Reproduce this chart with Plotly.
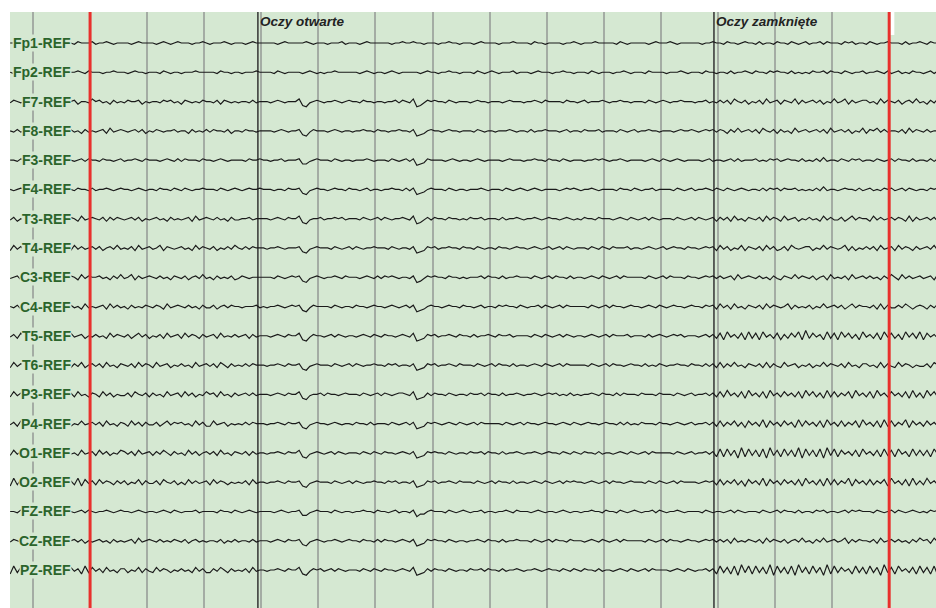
import numpy as np
import plotly.graph_objects as go

# ---------------- data ----------------
# Channel labels (top to bottom)
channels = ["Fp1-REF", "Fp2-REF", "F7-REF", "F8-REF", "F3-REF", "F4-REF",
            "T3-REF", "T4-REF", "C3-REF", "C4-REF", "T5-REF", "T6-REF",
            "P3-REF", "P4-REF", "O1-REF", "O2-REF", "FZ-REF", "CZ-REF", "PZ-REF"]

# Hand-read traces: each digit is one sample (16 samples/s), 5 = baseline,
# one step = 10 uV. Groups of 8 digits = half a second, starting at t = -0.4 s.
fp1 = ("55455565 54565545 55465556 45565455 55456555 54565456 55545565 45556545 "
       "55456555 55545655 55565455 54555645 55456555 55545565 56554555 45565545 "
       "55456555 54555655 55465545 55545565 45556555 55465455 55545655 56545555 "
       "55455655 46554565 54645546 55465456 45564655 54656455 46545565 55464556 54655465")
fp2 = ("54565545 55456555 45565465 55455655 54565545 55465455 45556555 55465545 "
       "54555655 55465455 55456545 45565555 55456545 54565455 55545655 45565545 "
       "55465456 54555645 55456555 45565545 55465455 54556545 55465555 45556545 "
       "55465545 54645565 46554656 55464545 46556465 54654556 45565464 56454655 45646556")
f7 = ("46545364 56374546 45635547 56453645 46556354 55465645 36545465 54636545 "
      "45546455 54565455 57214565 45565456 55465545 54556465 47124656 55465455 "
      "54565545 55456555 45565465 55546554 56455565 45565545 55465456 54556555 "
      "45564546 46375463 54637456 36547364 56463547 45736456 64537465 46356474 53647356")
f8 = ("54645365 46355647 56453645 45637456 54564635 46545564 55364546 46554635 "
      "54655455 55456545 56214655 54565455 45565546 55455655 46123565 54565545 "
      "55465455 45556545 54645565 55456455 46555645 55465456 45565545 55456556 "
      "54565646 53647456 46375463 64537456 45646374 56463547 36574645 54637465 46455736")
f3 = ("55465456 45565546 55456465 54655456 45565465 55456546 46555465 54565455 "
      "55465565 54556455 56224565 55465455 45556545 55465456 46123655 55456545 "
      "54565455 55456555 45565546 55465455 54556565 45565455 55456546 54565455 "
      "55456455 45646455 56454656 45655464 54647455 46546564 55465456 46554645 54646556")
f4 = ("54565455 46554565 55465546 45565456 55456545 54655465 46545565 55465456 "
      "54565565 55455465 56214565 54565546 55456455 45565546 46123565 55465455 "
      "45556545 55465456 54565455 55456565 45565455 55465546 54556455 55465456 "
      "45565465 46545654 55464656 46556454 54647455 45655464 56454656 45646545 54656455")
t3 = ("46354647 53645364 46537456 54636465 45646354 56453645 45637456 54645364 "
      "45564555 54565465 57214556 45565645 55465456 46545565 47124646 55465545 "
      "46556455 54645565 45565456 55456545 46554655 54565465 45646545 55465456 "
      "46545636 46374536 54637465 37456354 64537464 46357465 53746456 46537364 56463547")
t4 = ("37463547 46375364 53746456 46356474 54637456 45736545 64537465 46354647 "
      "54646555 45565455 56214565 55465456 46545565 55465455 46123656 45565546 "
      "55465455 46554565 54565456 45646545 55465465 46555645 54565456 45655465 "
      "54565637 46354736 54637463 46375456 63547465 45736354 64637456 37465364 56473546")
c3 = ("45637456 54645364 46537465 56453647 45736456 54645365 46356474 53645463 "
      "46545555 55465456 56214565 45565465 55456546 46565455 46124656 55465545 "
      "45556465 54645565 55465456 46554645 54565465 45646555 55465456 46555465 "
      "54565646 45637456 54645364 36547465 46356374 54637456 46453647 53746456 45637464")
c4 = ("54637456 46354647 56453745 45637464 53645465 46537456 54645364 46356465 "
      "54555645 45565456 56214655 55465455 46554565 54565456 46123565 54565546 "
      "55456455 46565546 54556465 45646555 55465456 46554565 54565465 45655456 "
      "55465637 46374536 54637465 45736454 63547456 46357465 54637364 46475356 53647456")
t5 = ("46375364 53746456 37456354 64537465 46357463 54637456 37465364 56374546 "
      "45636455 54565465 57214655 45646545 54565465 46554565 47123656 45565465 "
      "54645565 46556455 55465465 45646545 54565456 46555645 55464565 45656455 "
      "54564637 28463728 37284637 26374829 37462837 28473628 46372847 36284738 27463827")
t6 = ("37465364 46357465 53647356 46374536 54637465 37456354 64537456 46375364 "
      "54646555 45565465 56214565 55465456 46545565 54656455 46123656 45565465 "
      "55465456 46554645 54565465 45646555 55465456 46554565 54645465 45565546 "
      "55464637 36474536 54637364 37456354 63547465 46374536 64537364 37465354 46375463")
p3 = ("37465364 63547365 46374536 53746354 46375463 64537456 37463547 56374536 "
      "45646455 54565465 57214556 46554565 55465456 46545665 47123646 55465455 "
      "46556465 54645565 45565456 56454645 45565465 54646555 46555465 55465456 "
      "45564637 38463728 46372846 37463728 47362837 36472846 37284637 46372836 28473647")
p4 = ("46375364 37465354 63547456 46374536 53746364 46357465 64537463 37456354 "
      "54646555 45565465 56214565 54565455 46554645 55465456 46123656 54565465 "
      "45646555 55465456 46554565 54565465 45655456 55464645 46555465 54565456 "
      "45564637 36473627 46382746 37462837 46372846 37364728 46372837 36482746 37463728")
o1 = ("37465364 46375463 64537456 37463547 64637456 36475364 53746356 46374536 "
      "54636455 45565465 57214565 45646545 55465465 46554565 46123656 55465455 "
      "46556465 54645565 45565456 55465465 46554645 54565465 45646555 55465456 "
      "45564628 28371928 37281937 28372918 37281938 27463728 46372837 28462837 37284637")
o2 = ("28374628 37462837 46382746 37465364 63547364 46375463 53746456 37465354 "
      "54637455 45565465 56214565 55465456 46545565 54656455 46123656 45565465 "
      "55465456 46554645 54565465 45646565 54565456 46554565 55465465 45646555 "
      "54565637 36473627 46382746 37463728 46372837 36482746 37364728 46372836 38463728")
fz = ("55465546 45565455 55456465 45565456 55456545 54565465 45556455 55465546 "
      "54565455 55456545 56224565 55465455 45565546 55456455 46133565 55465456 "
      "54556455 45565465 55456545 54565455 45565546 55465456 54556465 45565455 "
      "55465455 45646545 55465456 46554645 54656455 45646565 55465456 46545654 54656455")
cz = ("46545364 54637456 45646354 56453645 45637456 54645465 46356454 55463546 "
      "45546455 54565465 56214565 45565456 55465546 46554565 46123656 55465455 "
      "45565465 54645565 55465456 46554655 54565465 45646555 55465456 46554565 "
      "54565646 46374546 54637465 46356474 53647456 45736465 54637456 46453647 56374546")
pz = ("28374637 46372846 37462837 46374536 63547364 37465354 64537463 36475364 "
      "54637455 45565465 57214656 45646545 55465465 46554565 47123646 55465455 "
      "46556465 54645565 45565456 55465465 46554645 54565465 45646555 54565465 "
      "45564628 37281938 28372918 37281937 28371928 37462837 28371937 28463728 37281928")

traces = [fp1, fp2, f7, f8, f3, f4, t3, t4, c3, c4, t5, t6, p3, p4, o1, o2, fz, cz, pz]

# Events / markers (seconds)
event_times = [3.94, 11.93]
event_labels = ["Oczy otwarte", "Oczy zamknięte"]
page_marks = [1.0, 15.0]

# ---------------- settings ----------------
FS = 16            # samples per second
T_START = -0.4     # time of first sample
CHUNK = 0.5        # seconds per 8-digit group
UV_STEP = 10       # uV per digit step
SPACING = 225      # uV between channels

BG = "#d5e8d2"
GRID = "#a4aca4"
LABEL_COLOR = "#2b642b"
TRACE_COLOR = "#1a1a1a"
RED = "#e8302c"
FONT = "Arial, Liberation Sans, sans-serif"

fig = go.Figure()

for i, (name, s) in enumerate(zip(channels, traces)):
    xs, ys = [], []
    for k, chunk in enumerate(s.split()):
        for j, ch in enumerate(chunk):
            xs.append(T_START + CHUNK * k + j / FS)
            ys.append((int(ch) - 5) * UV_STEP - i * SPACING)
    fig.add_trace(go.Scatter(x=xs, y=ys, mode="lines",
                             line=dict(color=TRACE_COLOR, width=1.15),
                             name=name, showlegend=False, hoverinfo="skip"))

shapes = []
for t in event_times:
    shapes.append(dict(type="line", xref="x", yref="paper", x0=t, x1=t, y0=0, y1=1,
                       line=dict(color="#333333", width=1.5), layer="below"))
for t in page_marks:
    shapes.append(dict(type="line", xref="x", yref="paper", x0=t, x1=t, y0=0, y1=1,
                       line=dict(color=RED, width=3), layer="above"))
# small white tab beside the right page mark
shapes.append(dict(type="rect", xref="x", yref="paper", x0=15.03, x1=15.09,
                   y0=1 - 23 / 596, y1=1, fillcolor="white", line=dict(width=0),
                   layer="above"))

annotations = []
for i, name in enumerate(channels):
    annotations.append(dict(x=0.69, y=-i * SPACING, xref="x", yref="y",
                            text="<b>" + name + "</b>", showarrow=False,
                            xanchor="right", yanchor="middle",
                            font=dict(family=FONT, size=14, color=LABEL_COLOR),
                            bgcolor=BG, borderpad=0))
for t, lab in zip(event_times, event_labels):
    annotations.append(dict(x=t, y=1, xref="x", yref="paper",
                            text="<b><i>" + lab + "</i></b>", showarrow=False,
                            xanchor="left", yanchor="top", yshift=0,
                            font=dict(family=FONT, size=13.5, color="#222222")))

top = (43 - 12) / 29.28 * SPACING
bottom = -18 * SPACING - (608 - 570) / 29.28 * SPACING

fig.update_layout(
    width=936, height=608,
    margin=dict(l=10, r=0, t=12, b=0),
    paper_bgcolor="white", plot_bgcolor=BG,
    shapes=shapes, annotations=annotations,
    xaxis=dict(range=[-0.403, 15.82], showgrid=True, gridcolor=GRID, gridwidth=1.5,
               tick0=0, dtick=1, showticklabels=False, zeroline=False,
               ticks="", showline=False),
    yaxis=dict(range=[bottom, top], showgrid=False, showticklabels=False,
               zeroline=False, ticks="", showline=False),
)

fig.write_html("out.html")
